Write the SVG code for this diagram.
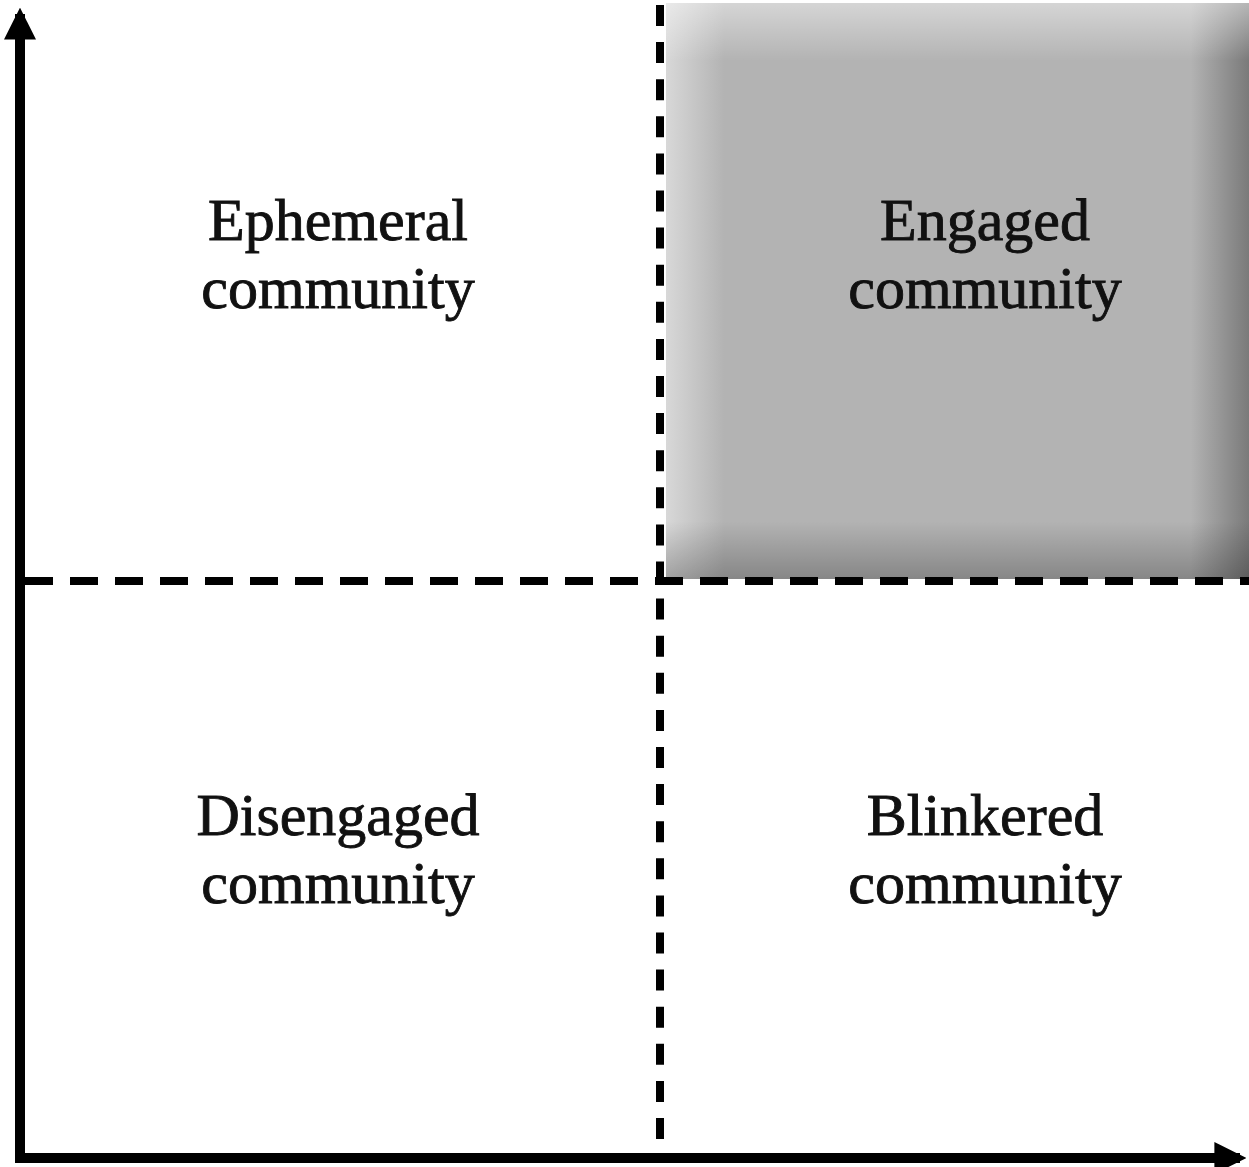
<svg xmlns="http://www.w3.org/2000/svg" width="1249" height="1167" viewBox="0 0 1249 1167">
<style>
.lbl{font-family:"Liberation Serif","Times New Roman",serif;font-size:60px;fill:#111;stroke:#111;stroke-width:0.9;text-anchor:middle}
.dash{stroke:#000;stroke-width:8;fill:none}
.axis{stroke:#000;stroke-width:10;fill:none}
</style>
<defs>
<linearGradient id="gx" x1="0" y1="0" x2="1" y2="0">
<stop offset="0" stop-color="#d8d8d8"/>
<stop offset="0.1" stop-color="#b3b3b3"/>
<stop offset="0.9" stop-color="#b3b3b3"/>
<stop offset="1" stop-color="#7a7a7a"/>
</linearGradient>
<linearGradient id="gy" x1="0" y1="0" x2="0" y2="1">
<stop offset="0" stop-color="#ffffff" stop-opacity="0.45"/>
<stop offset="0.1" stop-color="#ffffff" stop-opacity="0"/>
<stop offset="0.9" stop-color="#000000" stop-opacity="0"/>
<stop offset="1" stop-color="#000000" stop-opacity="0.25"/>
</linearGradient>
<marker id="ah" viewBox="0 0 10 10" refX="8" refY="5" markerWidth="3.2" markerHeight="3.2" orient="auto" markerUnits="strokeWidth">
<path d="M0,0 L10,5 L0,10 z" fill="#000"/>
</marker>
</defs>
<rect width="1249" height="1167" fill="#fff"/>
<g id="engaged">
<rect x="666" y="3" width="583" height="576" fill="url(#gx)"/>
<rect x="666" y="3" width="583" height="576" fill="url(#gy)"/>
<text class="lbl" x="985" y="240">Engaged</text>
<text class="lbl" x="985" y="308">community</text>
</g>
<g id="ephemeral">
<text class="lbl" x="338" y="240">Ephemeral</text>
<text class="lbl" x="338" y="308">community</text>
</g>
<g id="disengaged">
<text class="lbl" x="338" y="835">Disengaged</text>
<text class="lbl" x="338" y="903">community</text>
</g>
<g id="blinkered">
<text class="lbl" x="985" y="835">Blinkered</text>
<text class="lbl" x="985" y="903">community</text>
</g>
<g id="connectors">
<line class="dash" x1="660" y1="5" x2="660" y2="1140" stroke-dasharray="21 16.1"/>
<line class="dash" x1="20" y1="581" x2="1249" y2="581" stroke-dasharray="28 17" stroke-dashoffset="-5"/>
<line class="axis" x1="20" y1="1158" x2="20" y2="14" marker-end="url(#ah)"/>
<line class="axis" x1="15" y1="1158" x2="1240" y2="1158" marker-end="url(#ah)"/>
</g>
</svg>
